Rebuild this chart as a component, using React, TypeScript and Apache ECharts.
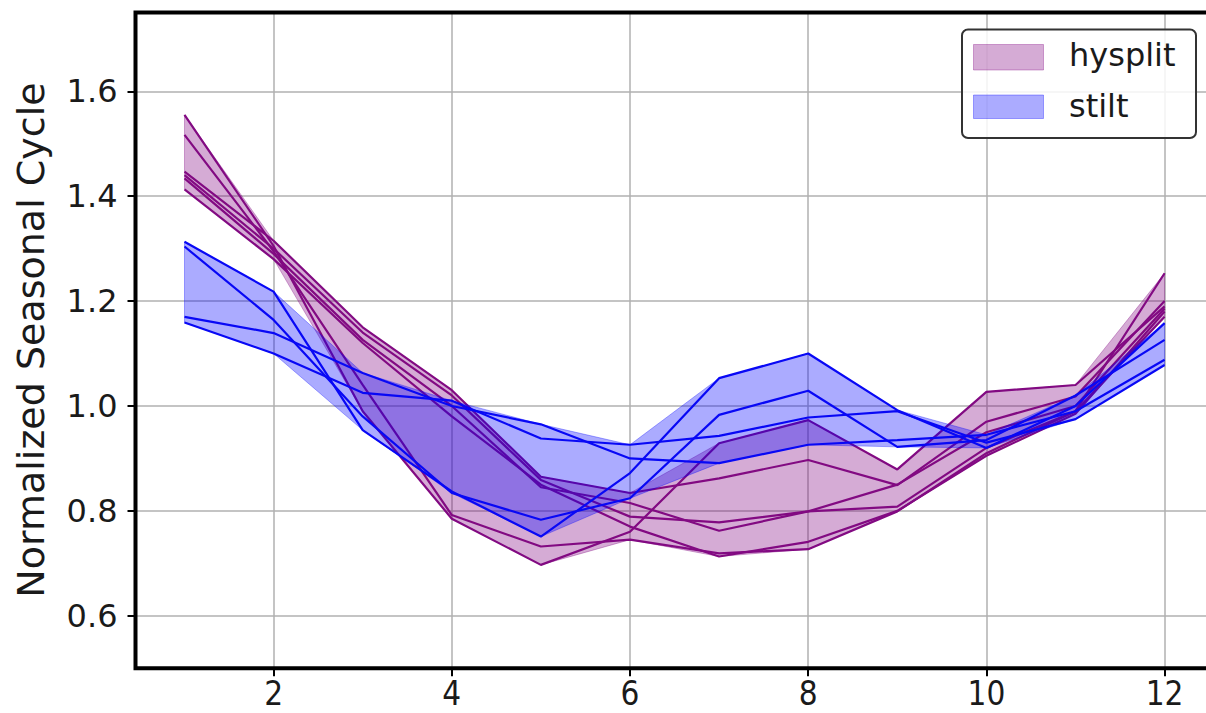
import React, { useEffect, useRef } from "react";
import * as echarts from "echarts";

const months = [1, 2, 3, 4, 5, 6, 7, 8, 9, 10, 11, 12];

const hysplit1 = [1.555, 1.305, 0.99, 0.785, 0.697, 0.76, 0.929, 0.973, 0.879, 1.027, 1.04, 1.19];
const hysplit2 = [1.517, 1.295, 1.04, 0.792, 0.732, 0.745, 0.719, 0.727, 0.799, 0.91, 0.99, 1.253];
const hysplit3 = [1.447, 1.315, 1.15, 1.03, 0.865, 0.834, 0.862, 0.897, 0.849, 0.97, 1.018, 1.2];
const hysplit4 = [1.44, 1.3, 1.14, 1.02, 0.859, 0.789, 0.778, 0.799, 0.85, 0.95, 1.0, 1.186];
const hysplit5 = [1.434, 1.29, 1.126, 1.0, 0.845, 0.815, 0.762, 0.799, 0.808, 0.92, 0.99, 1.17];
const hysplit6 = [1.413, 1.28, 1.12, 0.98, 0.85, 0.77, 0.713, 0.741, 0.8, 0.905, 0.985, 1.18];

const stilt1 = [1.313, 1.218, 0.954, 0.837, 0.751, 0.872, 1.053, 1.1, 0.992, 0.92, 1.0, 1.158];
const stilt2 = [1.304, 1.164, 0.98, 0.834, 0.783, 0.824, 0.983, 1.029, 0.922, 0.935, 1.02, 1.126];
const stilt3 = [1.17, 1.139, 1.063, 1.0, 0.965, 0.9, 0.891, 0.926, 0.935, 0.945, 0.99, 1.088];
const stilt4 = [1.159, 1.1, 1.025, 1.01, 0.938, 0.926, 0.943, 0.978, 0.99, 0.93, 0.975, 1.078];

const hysplitLines = [hysplit1, hysplit2, hysplit3, hysplit4, hysplit5, hysplit6];
const stiltLines = [stilt1, stilt2, stilt3, stilt4];

const xTicks = [2, 4, 6, 8, 10, 12];
const yTicks = [0.6, 0.8, 1.0, 1.2, 1.4, 1.6];

const HYS_LINE = "#820a82";
const HYS_FILL = "rgba(128,0,128,0.33)";
const STILT_LINE = "#0808f5";
const STILT_FILL = "rgba(0,0,255,0.33)";

function bandSeries(lines: number[][], fill: string, z: number) {
  const upper = months.map((_, i) => Math.max(...lines.map((l) => l[i])));
  const lower = months.map((_, i) => Math.min(...lines.map((l) => l[i])));
  return {
    type: "custom",
    z,
    silent: true,
    clip: true,
    data: [[months[0], upper[0]]],
    encode: { x: 0, y: 1 },
    renderItem: (_params: any, api: any) => {
      const pts: number[][] = [];
      months.forEach((m, i) => pts.push(api.coord([m, upper[i]])));
      for (let i = months.length - 1; i >= 0; i--) pts.push(api.coord([months[i], lower[i]]));
      return { type: "polygon", shape: { points: pts }, style: { fill, stroke: fill, lineWidth: 1 } };
    },
  };
}

function lineSeries(values: number[], color: string, z: number) {
  return {
    type: "line",
    z,
    silent: true,
    symbol: "none",
    showSymbol: false,
    data: months.map((m, i) => [m, values[i]]),
    lineStyle: { color, width: 2.2 },
  };
}

export default function App() {
  const ref = useRef<HTMLDivElement>(null);
  useEffect(() => {
    const chart = echarts.init(ref.current!, null, { renderer: "svg" });
    const series: any[] = [];
    series.push(bandSeries(hysplitLines, HYS_FILL, 2));
    hysplitLines.forEach((l) => series.push(lineSeries(l, HYS_LINE, 3)));
    series.push(bandSeries(stiltLines, STILT_FILL, 4));
    stiltLines.forEach((l) => series.push(lineSeries(l, STILT_LINE, 5)));

    chart.setOption({
      animation: false,
      backgroundColor: "#fff",
      grid: {
        left: 135.5,
        top: 12.6,
        width: 1078.1,
        height: 655.6,
        show: true,
        borderColor: "#000",
        borderWidth: 4,
        backgroundColor: "transparent",
        z: 10,
      },
      xAxis: {
        type: "value",
        min: 0.45,
        max: 12.55,
        splitNumber: 6,
        axisLine: { show: false },
        axisTick: {
          show: true,
          customValues: xTicks,
          length: 8,
          lineStyle: { color: "#000", width: 2 },
        },
        axisLabel: {
          customValues: xTicks,
          fontSize: 33,
          fontFamily: "DejaVu Sans Condensed",
          color: "#1a1a1a",
          margin: 9,
        },
        splitLine: { show: true, lineStyle: { color: "#b0b0b0", width: 1.5 } },
      },
      yAxis: {
        type: "value",
        min: 0.5,
        max: 1.75,
        splitNumber: 6,
        axisLine: { show: false },
        axisTick: {
          show: true,
          customValues: yTicks,
          length: 8,
          lineStyle: { color: "#000", width: 2 },
        },
        axisLabel: {
          customValues: yTicks,
          fontSize: 32,
          fontFamily: "DejaVu Sans",
          color: "#1a1a1a",
          margin: 18,
          formatter: (v: number) => v.toFixed(1),
        },
        splitLine: { show: true, lineStyle: { color: "#b0b0b0", width: 1.5 } },
      },
      graphic: [
        {
          type: "text",
          x: 31,
          y: 340,
          rotation: Math.PI / 2,
          style: {
            text: "Normalized Seasonal Cycle",
            fontSize: 38,
            fontFamily: "DejaVu Sans",
            fill: "#1a1a1a",
            align: "center",
            verticalAlign: "middle",
          },
          z: 100,
        },
        {
          type: "rect",
          shape: { x: 962, y: 29.5, width: 234, height: 108.5, r: 6 },
          style: { fill: "rgba(255,255,255,0.85)", stroke: "#333", lineWidth: 2 },
          z: 100,
        },
        {
          type: "rect",
          shape: { x: 973.5, y: 44.5, width: 70, height: 25.5 },
          style: { fill: HYS_FILL, stroke: HYS_FILL, lineWidth: 1 },
          z: 101,
        },
        {
          type: "rect",
          shape: { x: 973.5, y: 95, width: 70, height: 23.5 },
          style: { fill: STILT_FILL, stroke: STILT_FILL, lineWidth: 1 },
          z: 101,
        },
        {
          type: "text",
          x: 1069,
          y: 55,
          style: {
            text: "hysplit",
            fontSize: 32,
            fontFamily: "DejaVu Sans",
            fill: "#1a1a1a",
            align: "left",
            verticalAlign: "middle",
          },
          z: 101,
        },
        {
          type: "text",
          x: 1069,
          y: 106,
          style: {
            text: "stilt",
            fontSize: 32,
            fontFamily: "DejaVu Sans",
            fill: "#1a1a1a",
            align: "left",
            verticalAlign: "middle",
          },
          z: 101,
        },
      ],
      series,
    });
    return () => chart.dispose();
  }, []);

  return (
    <div
      style={{
        position: "fixed",
        left: 0,
        top: 0,
        width: 1206,
        height: 713,
        overflow: "hidden",
        background: "#fff",
      }}
    >
      <div ref={ref} style={{ width: 1230, height: 713 }} />
    </div>
  );
}
